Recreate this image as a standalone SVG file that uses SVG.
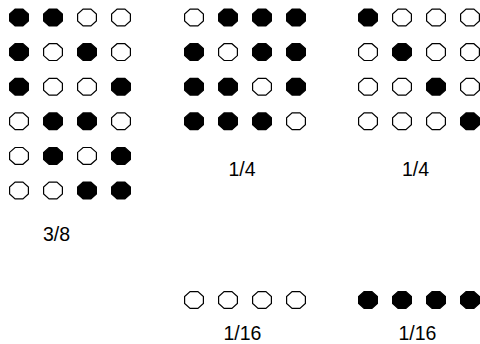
<svg xmlns="http://www.w3.org/2000/svg" xmlns:xlink="http://www.w3.org/1999/xlink" width="480" height="344" viewBox="0 0 480 344">
<style>
.b{fill:#000;stroke:#000;stroke-width:1.2}
.w{fill:#fff;stroke:#000;stroke-width:1.2}
text{font-family:"Liberation Sans",Arial,sans-serif;font-size:19.5px;fill:#000;text-anchor:middle}
</style>
<defs>
<polygon id="o" points="-3.9,-8.4 3.9,-8.4 9.4,-3.5 9.4,3.5 3.9,8.4 -3.9,8.4 -9.4,3.5 -9.4,-3.5"/>
</defs>
<rect width="480" height="344" fill="#fff"/>
<g id="panel-3-8">
<use href="#o" class="b" x="19" y="17.5"/><use href="#o" class="b" x="53" y="17.5"/><use href="#o" class="w" x="87" y="17.5"/><use href="#o" class="w" x="121" y="17.5"/>
<use href="#o" class="b" x="19" y="52.1"/><use href="#o" class="w" x="53" y="52.1"/><use href="#o" class="b" x="87" y="52.1"/><use href="#o" class="w" x="121" y="52.1"/>
<use href="#o" class="b" x="19" y="86.7"/><use href="#o" class="w" x="53" y="86.7"/><use href="#o" class="w" x="87" y="86.7"/><use href="#o" class="b" x="121" y="86.7"/>
<use href="#o" class="w" x="19" y="121.3"/><use href="#o" class="b" x="53" y="121.3"/><use href="#o" class="b" x="87" y="121.3"/><use href="#o" class="w" x="121" y="121.3"/>
<use href="#o" class="w" x="19" y="155.9"/><use href="#o" class="b" x="53" y="155.9"/><use href="#o" class="w" x="87" y="155.9"/><use href="#o" class="b" x="121" y="155.9"/>
<use href="#o" class="w" x="19" y="190.5"/><use href="#o" class="w" x="53" y="190.5"/><use href="#o" class="b" x="87" y="190.5"/><use href="#o" class="b" x="121" y="190.5"/>
<text x="56.5" y="241">3/8</text>
</g>
<g id="panel-1-4-a">
<use href="#o" class="w" x="194" y="17.5"/><use href="#o" class="b" x="228" y="17.5"/><use href="#o" class="b" x="262" y="17.5"/><use href="#o" class="b" x="296" y="17.5"/>
<use href="#o" class="b" x="194" y="52.1"/><use href="#o" class="w" x="228" y="52.1"/><use href="#o" class="b" x="262" y="52.1"/><use href="#o" class="b" x="296" y="52.1"/>
<use href="#o" class="b" x="194" y="86.7"/><use href="#o" class="b" x="228" y="86.7"/><use href="#o" class="w" x="262" y="86.7"/><use href="#o" class="b" x="296" y="86.7"/>
<use href="#o" class="b" x="194" y="121.3"/><use href="#o" class="b" x="228" y="121.3"/><use href="#o" class="b" x="262" y="121.3"/><use href="#o" class="w" x="296" y="121.3"/>
<text x="242" y="176">1/4</text>
</g>
<g id="panel-1-4-b">
<use href="#o" class="b" x="368" y="17.5"/><use href="#o" class="w" x="402" y="17.5"/><use href="#o" class="w" x="436" y="17.5"/><use href="#o" class="w" x="470" y="17.5"/>
<use href="#o" class="w" x="368" y="52.1"/><use href="#o" class="b" x="402" y="52.1"/><use href="#o" class="w" x="436" y="52.1"/><use href="#o" class="w" x="470" y="52.1"/>
<use href="#o" class="w" x="368" y="86.7"/><use href="#o" class="w" x="402" y="86.7"/><use href="#o" class="b" x="436" y="86.7"/><use href="#o" class="w" x="470" y="86.7"/>
<use href="#o" class="w" x="368" y="121.3"/><use href="#o" class="w" x="402" y="121.3"/><use href="#o" class="w" x="436" y="121.3"/><use href="#o" class="b" x="470" y="121.3"/>
<text x="415.5" y="176">1/4</text>
</g>
<g id="panel-1-16-a">
<use href="#o" class="w" x="194" y="300"/><use href="#o" class="w" x="228" y="300"/><use href="#o" class="w" x="262" y="300"/><use href="#o" class="w" x="296" y="300"/>
<text x="242.5" y="340">1/16</text>
</g>
<g id="panel-1-16-b">
<use href="#o" class="b" x="368" y="300"/><use href="#o" class="b" x="402" y="300"/><use href="#o" class="b" x="436" y="300"/><use href="#o" class="b" x="470" y="300"/>
<text x="417.5" y="340">1/16</text>
</g>
<g id="connectors"/>
</svg>
